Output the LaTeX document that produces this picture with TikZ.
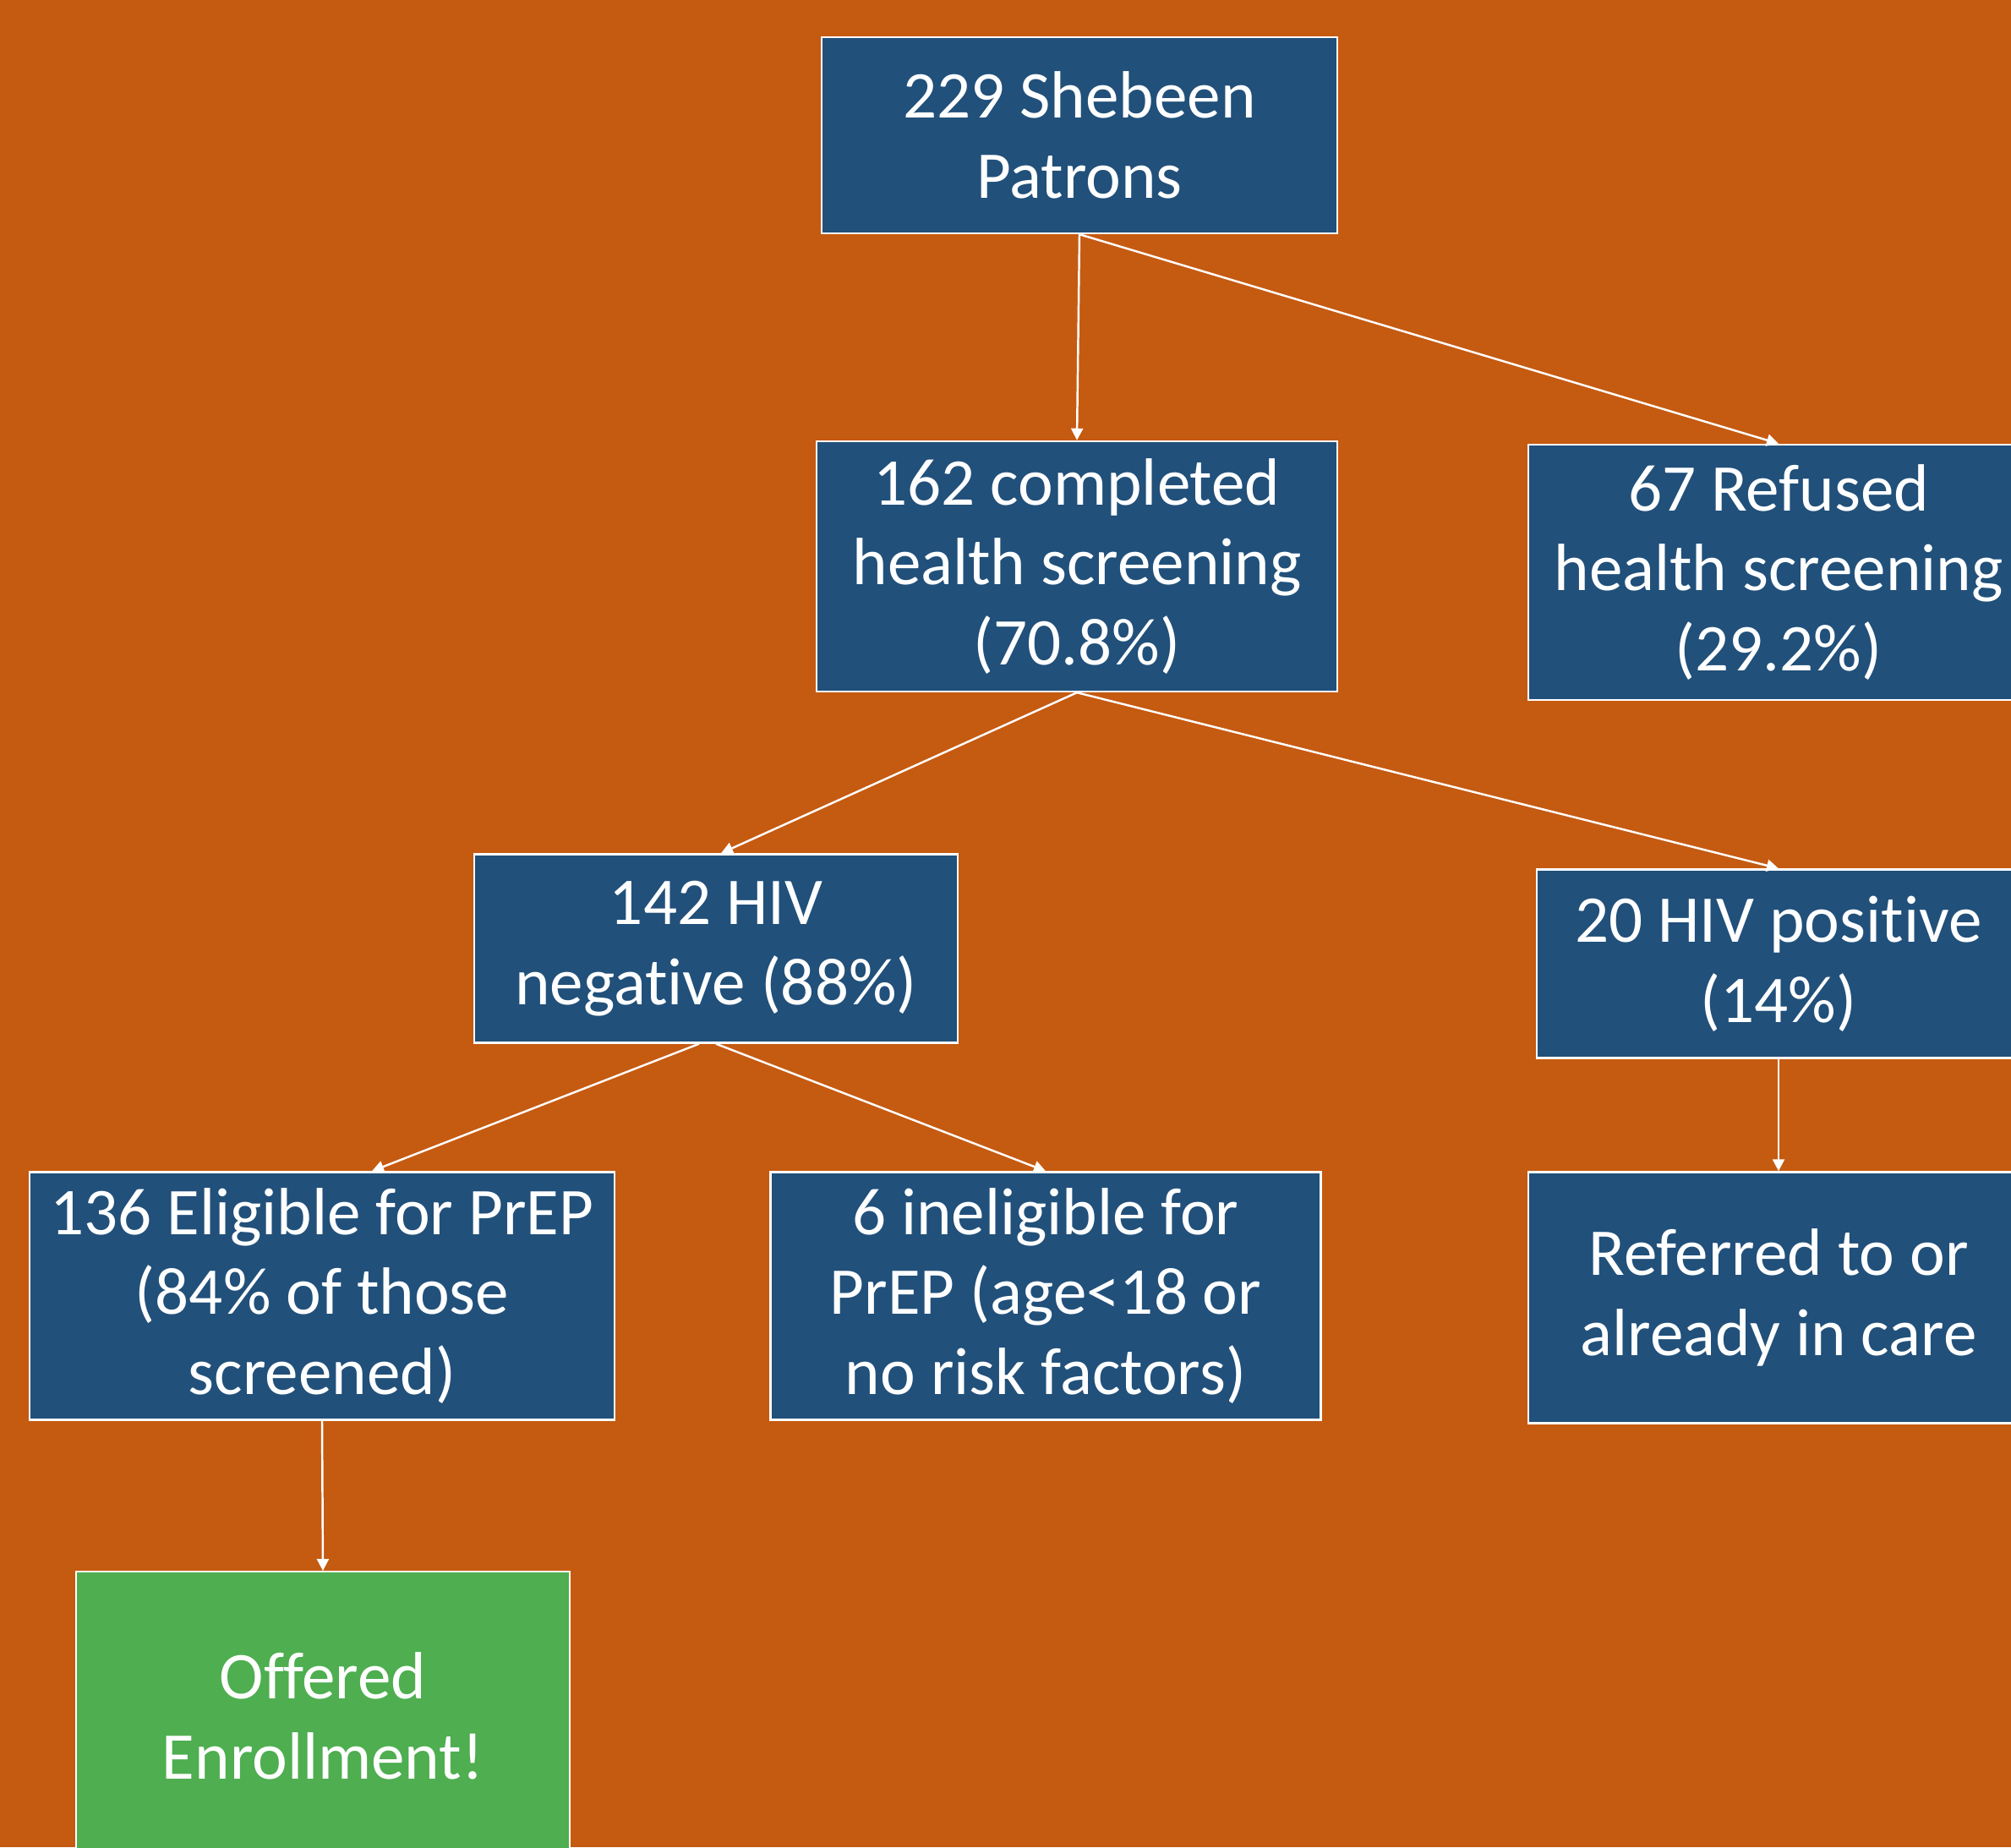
\documentclass[tikz,border=0pt]{standalone}
\usepackage{fontspec}
\setmainfont{Carlito}[Ligatures=NoCommon]
\definecolor{slideOrange}{RGB}{197, 90, 17}
\definecolor{boxBlue}{RGB}{33, 80, 122}
\definecolor{offerGreen}{RGB}{78, 174, 80}
\usetikzlibrary{arrows.meta}

\begin{document}
\begin{tikzpicture}[
      every node/.style={font=\fontsize{22.5}{27}\selectfont, text=white},
      stage/.style={rectangle, draw=white, fill=boxBlue, line width=0.7pt, align=center, inner sep=0pt},
      offerbox/.style={rectangle, draw=white, fill=offerGreen, line width=0.5pt, align=center, inner sep=0pt},
      arrow/.style={-{Triangle[length=0.14cm, width=0.14cm]}, line width=0.7pt, color=white}
    ]
      % Slide background
      \useasboundingbox (0,0) rectangle (23.79,21.85);
      \fill[slideOrange] (0,0) rectangle (23.79,21.85);

      % Top: all patrons, then screening split
      \node[stage, minimum width=6.10cm, minimum height=2.32cm] (patrons) at (12.77,20.25) {229 Shebeen\\Patrons};
      \node[stage, minimum width=6.16cm, minimum height=2.96cm] (screened) at (12.74,15.15) {162 completed\\health screening\\(70.8\%)};
      \node[stage, minimum width=5.92cm, minimum height=3.02cm] (refused) at (21.04,15.08) {67 Refused\\health screening\\(29.2\%)};

      % Middle: HIV test result
      \node[stage, minimum width=5.72cm, minimum height=2.23cm] (hivneg) at (8.47,10.63) {142 HIV\\negative (88\%)};
      \node[stage, minimum width=5.72cm, minimum height=2.23cm] (hivpos) at (21.04,10.45) {20 HIV positive\\(14\%)};

      % Bottom: eligibility and outcome
      \node[stage, minimum width=6.92cm, minimum height=2.93cm] (eligible) at (3.81,6.52) {136 Eligible for PrEP\\(84\% of those\\screened)};
      \node[stage, minimum width=6.51cm, minimum height=2.93cm] (inelig) at (12.37,6.52) {6 ineligible for\\PrEP (age<18 or\\no risk factors)};
      \node[stage, minimum width=5.92cm, minimum height=2.97cm] (care) at (21.04,6.50) {Referred to or\\already in care};
      \node[offerbox, minimum width=5.84cm, minimum height=3.42cm] (offer) at (3.82,1.55) {Offered\\Enrollment!};

      % Connecting Arrows
      \draw[arrow] (patrons.south) -- (screened.north);
      \draw[arrow] (patrons.south) -- (refused.north);
      \draw[arrow] (screened.south) -- ([xshift=0.6mm]hivneg.north);
      \draw[arrow] (screened.south) -- (hivpos.north);
      \draw[arrow] ([xshift=-2mm]hivneg.south) -- ([xshift=5.9mm]eligible.north);
      \draw[arrow] (hivneg.south) -- (inelig.north);
      \draw[arrow] (hivpos.south) -- (care.north);
      \draw[arrow] (eligible.south) -- (offer.north);
    \end{tikzpicture}
\end{document}
